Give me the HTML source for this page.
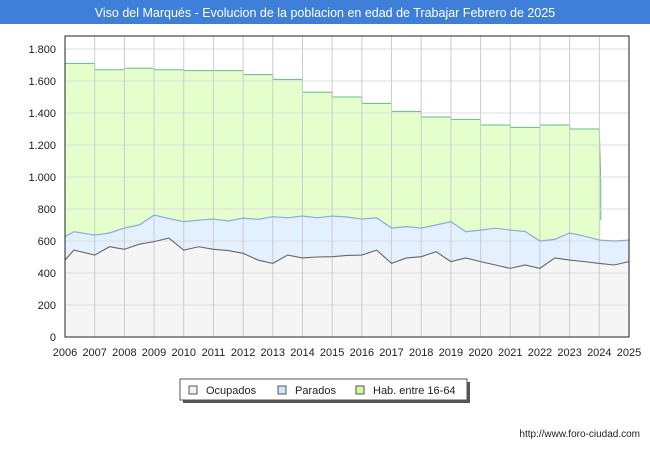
<!DOCTYPE html>
<html><head><meta charset="utf-8"><style>
body{margin:0;background:#fff;font-family:"Liberation Sans","DejaVu Sans",sans-serif}
#c{position:relative;width:650px;height:450px;overflow:hidden}
</style></head><body>
<div id="c">
<svg id="s" width="650" height="450" xmlns="http://www.w3.org/2000/svg" font-family="Liberation Sans, DejaVu Sans, sans-serif">
<rect x="0" y="0" width="650" height="24" fill="#3d7fd9"/>
<text x="325" y="17" text-anchor="middle" fill="#fff" font-size="12.5">Viso del Marqués - Evolucion de la poblacion en edad de Trabajar Febrero de 2025</text>
<g id="plot"></g>
<g>
<rect x="183" y="382" width="287" height="21" fill="#555"/>
<rect x="180" y="379" width="287" height="21" fill="#fff" stroke="#555"/>
<rect x="189" y="386" width="8" height="8" fill="#f0f0f0" stroke="#555"/>
<text x="206" y="394" font-size="11" fill="#222">Ocupados</text>
<rect x="278" y="386" width="8" height="8" fill="#cfe5ff" stroke="#555"/>
<text x="295" y="394" font-size="11" fill="#222">Parados</text>
<rect x="356" y="386" width="8" height="8" fill="#ccff99" stroke="#555"/>
<text x="373" y="394" font-size="11" fill="#222">Hab. entre 16-64</text>
</g>
<text x="640" y="437" text-anchor="end" font-size="10" fill="#222">http://www.foro-ciudad.com</text>
</svg>
</div>
<script>
const years=[2006,2007,2008,2009,2010,2011,2012,2013,2014,2015,2016,2017,2018,2019,2020,2021,2022,2023,2024,2025];
const habYears=[2006,2007,2008,2009,2010,2011,2012,2013,2014,2015,2016,2017,2018,2019,2020,2021,2022,2023];
const habValues=[1710,1670,1680,1670,1665,1665,1640,1610,1530,1500,1460,1410,1375,1360,1325,1310,1325,1300];
const habEndValues=[950,730];
const tTimes=[2006,2006.3,2007,2007.5,2008,2008.5,2009,2009.5,2010,2010.5,2011,2011.5,2012,2012.5,2013,2013.5,2014,2014.5,2015,2015.5,2016,2016.5,2017,2017.5,2018,2018.5,2019,2019.5,2020,2020.5,2021,2021.5,2022,2022.5,2023,2023.5,2024,2024.5,2025];
const totalValues=[627,658,637,650,681,700,762,740,721,730,737,725,743,735,752,745,756,745,756,750,737,745,681,690,681,700,721,658,668,680,668,660,600,610,650,630,606,600,606];
const ocupValues=[481,543,512,564,548,580,596,618,543,564,548,540,523,481,460,512,494,500,502,510,512,543,460,494,502,533,471,494,471,450,429,450,429,494,481,471,460,450,471];
const yTicks=[0,200,400,600,800,1000,1200,1400,1600,1800];
const yTickLabels=["0","200","400","600","800","1.000","1.200","1.400","1.600","1.800"];
const X0=65,X1=629,Y0=337,YT=49;
const xs=v=>X0+(v-2006)*(X1-X0)/19;
const ys=v=>Y0-v*(Y0-YT)/1800;
const NS="http://www.w3.org/2000/svg";
const g=document.getElementById('plot');
function mk(t,a){const e=document.createElementNS(NS,t);for(const k in a)e.setAttribute(k,a[k]);g.appendChild(e);return e;}
const bg=mk('rect',{x:X0,y:36,width:X1-X0,height:Y0-36,fill:'#fff'});


const xe=xs(2024.05);
let hp=[];
for(let i=0;i<habValues.length;i++){const x0=xs(2006+i),x1=Math.min(xs(2007+i),xe);hp.push([x0,ys(habValues[i])],[x1,ys(habValues[i])]);}
hp.push([xe,ys(habEndValues[0])],[xe,ys(habEndValues[1])]);
const habD='M'+X0+','+Y0+' '+hp.map(p=>'L'+p[0]+','+p[1]).join(' ')+' L'+xe+','+Y0+' Z';
const ha=mk('path',{d:habD,fill:'#e5ffcc',stroke:'none'});


const hl=mk('path',{d:'M'+hp.map(p=>p[0]+','+p[1]).join(' L'),fill:'none',stroke:'#66bb88','stroke-width':1});


const tp=tTimes.map((t,i)=>[xs(t),ys(totalValues[i])]);
const ta=mk('path',{d:'M'+X0+','+Y0+' L'+tp.map(p=>p.join(',')).join(' L')+' L'+X1+','+Y0+' Z',fill:'#e3f0ff'});


const op=tTimes.map((t,i)=>[xs(t),ys(ocupValues[i])]);
const oa=mk('path',{d:'M'+X0+','+Y0+' L'+op.map(p=>p.join(',')).join(' L')+' L'+X1+','+Y0+' Z',fill:'#f5f5f5'});


yTicks.forEach((v,i)=>{
 const l=mk('line',{x1:X0,x2:X1,y1:ys(v),y2:ys(v),stroke:'#dddddd'});
 
 
 const t=mk('text',{x:56,y:ys(v)+4,'text-anchor':'end','font-size':11,fill:'#222'});
 t.textContent=yTickLabels[i];
 
 
});
years.forEach(y=>{
 const l=mk('line',{x1:xs(y),x2:xs(y),y1:36,y2:Y0,stroke:'#cccccc'});
 
 
 const t=mk('text',{x:xs(y),y:356,'text-anchor':'middle','font-size':11,fill:'#222'});
 t.textContent=y;
 
 
});
const tl=mk('path',{d:'M'+tp.map(p=>p.join(',')).join(' L'),fill:'none',stroke:'#88aadd','stroke-width':1.2});


const ol=mk('path',{d:'M'+op.map(p=>p.join(',')).join(' L'),fill:'none',stroke:'#666','stroke-width':1.1});


const fr=mk('rect',{x:X0,y:36,width:X1-X0,height:Y0-36,fill:'none',stroke:'#222','stroke-width':1});


</script>
</body></html>
